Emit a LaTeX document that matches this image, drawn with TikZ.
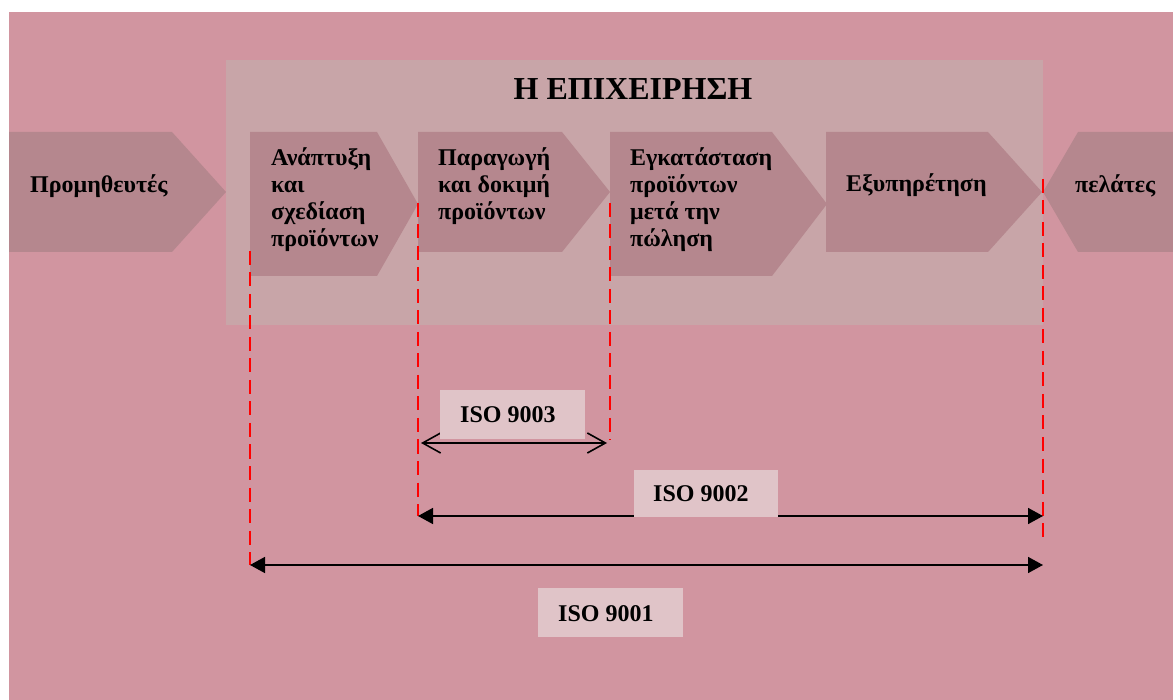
\documentclass[tikz,border=0pt]{standalone}
\usepackage{fontspec}
\setmainfont{Liberation Serif}
\usetikzlibrary{arrows.meta}
\definecolor{panelpink}{RGB}{209,149,160}
\definecolor{firmbox}{RGB}{200,165,168}
\definecolor{stagefill}{RGB}{181,135,142}
\definecolor{labelfill}{RGB}{224,196,200}
\begin{document}
\begin{tikzpicture}[x=1pt,y=-1pt,
  stage/.style={fill=stagefill,draw=none},
  % multi-line nodes sit on the baseline of their last line
  stagetext/.style={anchor=base west,inner sep=0pt,align=left,
    font=\fontsize{24}{27}\selectfont\bfseries},
  boundary/.style={draw=red,line width=2pt,dash pattern=on 14pt off 7.5pt},
  span/.style={draw=black,line width=1.6pt},
  openspan/.style={span,{Straight Barb[length=18pt,width=20pt]}-{Straight Barb[length=18pt,width=20pt]}},
  solidspan/.style={span,{Triangle[length=15pt,width=16pt]}-{Triangle[length=15pt,width=16pt]}},
  labelbox/.style={fill=labelfill,draw=none,inner sep=0pt},
  labeltext/.style={anchor=base west,inner sep=0pt,
    font=\fontsize{24}{27}\selectfont\bfseries}]
\useasboundingbox (0,0) rectangle (1173,700);
\fill[white] (0,0) rectangle (1173,700);
% background panel and the company frame
\fill[panelpink] (9,12) rectangle (1173,700);
\fill[firmbox] (226,60) rectangle (1043,325);
\node[anchor=base,inner sep=0pt,font=\fontsize{32}{36}\selectfont\bfseries] (title) at (633,100) {Η ΕΠΙΧΕΙΡΗΣΗ};

% value chain stages
\fill[stage] (9,132) -- (172,132) -- (226,192) -- (172,252) -- (9,252) -- cycle;
\fill[stage] (250,132) -- (377,132) -- (418,204) -- (377,276) -- (250,276) -- cycle;
\fill[stage] (418,132) -- (562,132) -- (610,192) -- (562,252) -- (418,252) -- cycle;
\fill[stage] (610,132) -- (772,132) -- (827,204) -- (772,276) -- (610,276) -- cycle;
\fill[stage] (826,132) -- (988,132) -- (1042,192) -- (988,252) -- (826,252) -- cycle;
\fill[stage] (1078,132) -- (1173,132) -- (1173,252) -- (1078,252) -- (1043,192) -- cycle;

\node[stagetext] (suppliers) at (30,193) {Προμηθευτές};
\node[stagetext] (design) at (271,247) {Ανάπτυξη\\και\\σχεδίαση\\προϊόντων};
\node[stagetext] (production) at (438,220) {Παραγωγή\\και δοκιμή\\προϊόντων};
\node[stagetext] (install) at (630,247) {Εγκατάσταση\\προϊόντων\\μετά την\\πώληση};
\node[stagetext] (service) at (846,192) {Εξυπηρέτηση};
\node[stagetext] (customers) at (1075,193) {πελάτες};

% scope boundaries
\coordinate (b1top) at (250,251);
\coordinate (b1bot) at (250,565);
\coordinate (b2top) at (418,203);
\coordinate (b2bot) at (418,516);
\coordinate (b3top) at (610,203);
\coordinate (b3bot) at (610,440);
\coordinate (b4top) at (1043,179);
\coordinate (b4bot) at (1043,541);
\draw[boundary] (b1top) -- (b1bot);
\draw[boundary] (b2top) -- (b2bot);
\draw[boundary] (b3top) -- (b3bot);
\draw[boundary] (b4top) -- (b4bot);

% ISO 9003
\coordinate (s3l) at (421,443);
\coordinate (s3r) at (607,443);
\draw[openspan] (s3l) -- (s3r);
\node[labelbox,minimum width=145pt,minimum height=49pt] (iso3box) at (512.5,414.5) {};
\node[labeltext] (iso3) at (460,423) {ISO 9003};

% ISO 9002
\coordinate (s2l) at (418,516);
\coordinate (s2r) at (1043,516);
\draw[solidspan] (s2l) -- (s2r);
\node[labelbox,minimum width=144pt,minimum height=47pt] (iso2box) at (706,493.5) {};
\node[labeltext] (iso2) at (653,501) {ISO 9002};

% ISO 9001
\coordinate (s1l) at (250,565);
\coordinate (s1r) at (1043,565);
\draw[solidspan] (s1l) -- (s1r);
\node[labelbox,minimum width=145pt,minimum height=49pt] (iso1box) at (610.5,612.5) {};
\node[labeltext] (iso1) at (558,621) {ISO 9001};
\end{tikzpicture}
\end{document}
